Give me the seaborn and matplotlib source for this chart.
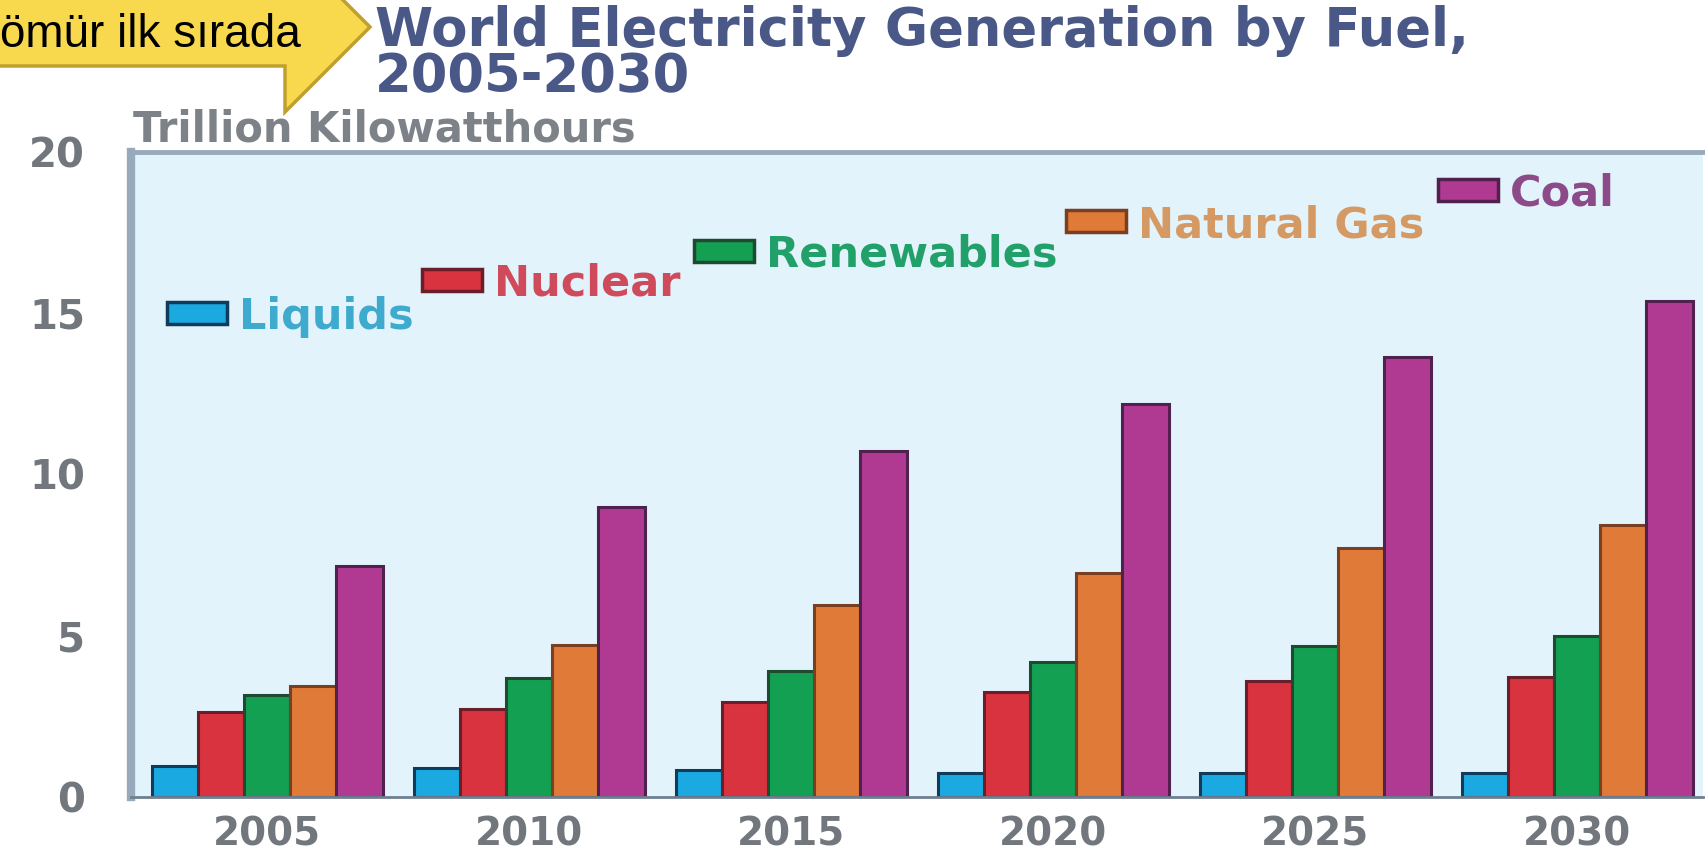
import matplotlib
matplotlib.use("Agg")
import matplotlib.pyplot as plt
import matplotlib.patches as mpatches
import numpy as np
import pandas as pd
import seaborn as sns

# --- data (trillion kWh) ---
years = ["2005", "2010", "2015", "2020", "2025", "2030"]
fuels = ["Liquids", "Nuclear", "Renewables", "Natural Gas", "Coal"]
liquids = [0.97, 0.90, 0.83, 0.75, 0.75, 0.75]
nuclear = [2.65, 2.72, 2.95, 3.25, 3.60, 3.72]
renewables = [3.17, 3.68, 3.92, 4.20, 4.68, 5.00]
natural_gas = [3.45, 4.70, 5.95, 6.96, 7.72, 8.42]
coal = [7.15, 9.00, 10.72, 12.20, 13.65, 15.38]
y_ticks = [0, 5, 10, 15, 20]

# --- styling ---
fill_colors = ["#1aa9e0", "#d9333f", "#13a052", "#e07a38", "#b03a92"]
edge_colors = ["#103c5c", "#6a1e2a", "#1f4a30", "#7a3e20", "#50204f"]
label_colors = ["#3eaacd", "#cf4b5c", "#22a06a", "#d59a64", "#8c4a88"]
title_color = "#4a5888"
gray_text = "#72777d"
frame_color = "#98a9bb"

W, H = 1706, 859


def fx(x):
    return x / W


def fy(y):
    return 1 - y / H


series = [liquids, nuclear, renewables, natural_gas, coal]
df = pd.DataFrame({
    "year": np.repeat([years], len(fuels), axis=0).ravel(),
    "fuel": np.repeat(fuels, len(years)),
    "value": np.concatenate(series),
})

sns.set_style("white")
plt.rcParams["font.family"] = ["DejaVu Sans"]

fig = plt.figure(figsize=(W / 100, H / 100), dpi=100)
fig.patch.set_facecolor("white")
ax = fig.add_axes([fx(131), fy(797), fx(1703) - fx(131), fy(152) - fy(797)])
ax.set_facecolor("#e2f3fb")

sns.barplot(data=df, x="year", y="value", hue="fuel", hue_order=fuels,
            order=years, palette=fill_colors, saturation=1, width=0.88,
            linewidth=2.2, legend=False, ax=ax)
for cont, ec in zip(ax.containers, edge_colors):
    for bar in cont:
        bar.set_edgecolor(ec)

ax.set_xlim(-0.52, 5.48)
ax.set_ylim(0, 20)
ax.set_yticks(y_ticks)
ax.set_yticklabels([str(t) for t in y_ticks])
ax.set_xlabel("")
ax.set_ylabel("")

ax.spines["right"].set_visible(False)
ax.spines["left"].set_color(frame_color)
ax.spines["left"].set_linewidth(6)
ax.spines["top"].set_color(frame_color)
ax.spines["top"].set_linewidth(3.5)
ax.spines["bottom"].set_color("#6f7f90")
ax.spines["bottom"].set_linewidth(2)

ax.tick_params(axis="y", length=17, width=2, color="#8a9aab", pad=16,
               labelsize=29, labelcolor=gray_text)
ax.tick_params(axis="x", length=0, pad=13, labelsize=28, labelcolor=gray_text)
for lbl in ax.get_xticklabels() + ax.get_yticklabels():
    lbl.set_fontweight("bold")

# --- in-plot key, laid out as a staircase ---
key_boxes = [(167, 313), (422, 280), (694, 251), (1066, 221), (1438, 190)]
for (bx, by), name, fc, ec, tc in zip(key_boxes, fuels, fill_colors,
                                      edge_colors, label_colors):
    rect = mpatches.Rectangle((fx(bx), fy(by + 11)), fx(60), 22 / H,
                              transform=fig.transFigure, facecolor=fc,
                              edgecolor=ec, linewidth=2.5, zorder=5)
    fig.add_artist(rect)
    fig.text(fx(bx + 72), fy(by + 16), name, color=tc, fontsize=31,
             fontweight="bold", va="baseline", ha="left", zorder=6)

# --- titles ---
fig.text(fx(375), fy(5), "World Electricity Generation by Fuel,\n2005-2030",
         color=title_color, fontsize=38, fontweight="bold", va="top",
         ha="left", linespacing=0.86)
fig.text(fx(133), fy(141), "Trillion Kilowatthours", color="#7d8288",
         fontsize=30, fontweight="bold", va="baseline")

# --- callout ---
callout = mpatches.Polygon(
    [(fx(-10), fy(-20)), (fx(323), fy(-20)), (fx(370), fy(27)),
     (fx(285), fy(112)), (fx(285), fy(66)), (fx(-10), fy(66))],
    closed=True, transform=fig.transFigure, facecolor="#f8d94e",
    edgecolor="#bfa02e", linewidth=2.5, clip_on=False, zorder=8)
fig.add_artist(callout)
fig.text(fx(-23), fy(47), "kömür ilk sırada", color="black", fontsize=33,
         family=["Liberation Sans", "DejaVu Sans"], va="baseline",
         ha="left", zorder=9)

fig.savefig("out.png", dpi=100, facecolor="white")
